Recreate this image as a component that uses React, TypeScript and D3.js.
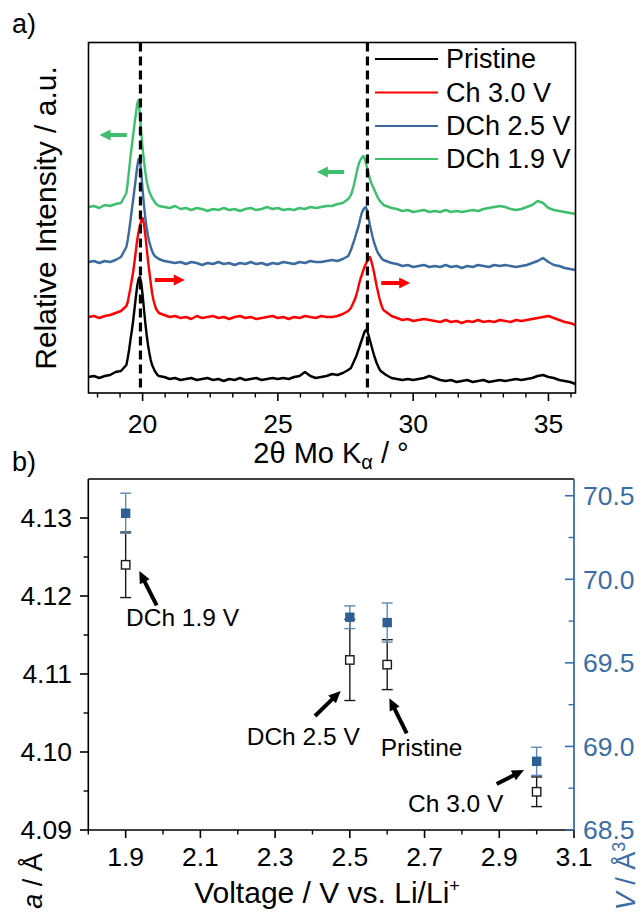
import React from 'react';
import * as d3 from 'd3';

// ---------- Panel a) XRD patterns ----------
const TWO_THETA = [
  18.0, 18.2, 18.4, 18.6, 18.8, 19.0, 19.2,
  19.4, 19.45, 19.5, 19.55, 19.6, 19.65, 19.7, 19.75, 19.8, 19.85, 19.9, 19.95, 20.0, 20.05, 20.1, 20.15, 20.2, 20.25, 20.3, 20.35, 20.4, 20.45, 20.5, 20.55, 20.6,
  20.8, 21.0, 21.2, 21.4, 21.6, 21.8, 22.0, 22.2, 22.4, 22.6, 22.8, 23.0, 23.2, 23.4, 23.6, 23.8, 24.0, 24.2, 24.4, 24.6, 24.8, 25.0, 25.2, 25.4, 25.6, 25.8, 26.0, 26.2, 26.4, 26.6, 26.8, 27.0, 27.2, 27.4, 27.6,
  27.7, 27.75, 27.8, 27.85, 27.9, 27.95, 28.0, 28.05, 28.1, 28.15, 28.2, 28.25, 28.3, 28.35, 28.4, 28.45, 28.5, 28.55, 28.6, 28.65, 28.7, 28.75, 28.8, 28.85, 28.9,
  29.0, 29.2, 29.4, 29.6, 29.8, 30.0, 30.2, 30.4, 30.6, 30.8, 31.0, 31.2, 31.4, 31.6, 31.8, 32.0, 32.2, 32.4, 32.6, 32.8, 33.0, 33.2, 33.4, 33.6, 33.8, 34.0, 34.2, 34.4, 34.6, 34.8, 35.0, 35.2, 35.4, 35.6, 35.8, 36.0,
];

const PRISTINE = [
  16, 17, 15, 17, 18, 21, 22,
  28, 35, 43, 53, 62, 72, 84, 96, 107, 114, 116, 110, 98, 84, 70, 58, 48, 40, 33, 28, 25, 22, 20, 18, 17,
  16, 14, 15, 13, 14, 15, 13, 14, 15, 13, 14, 12, 14, 13, 15, 13, 14, 15, 13, 14, 15, 14, 15, 14, 16, 17, 21, 17, 15, 16, 17, 19, 18, 20, 23,
  25, 28, 31, 34, 37, 41, 45, 49, 53, 57, 61, 63, 62, 58, 53, 48, 43, 38, 34, 30, 27, 24, 22, 21, 20,
  18, 15, 14, 13, 14, 13, 14, 15, 17, 15, 13, 12, 13, 11, 12, 13, 11, 12, 13, 11, 12, 13, 12, 13, 14, 13, 14, 15, 17, 18, 16, 15, 13, 12, 11, 9,
];

const CH_30V = [
  76, 77, 75, 77, 78, 80, 82,
  87, 91, 98, 105, 113, 121, 131, 142, 153, 161, 167, 172, 175, 169, 158, 145, 132, 121, 110, 100, 93, 88, 84, 82, 80,
  78, 76, 77, 75, 76, 74, 77, 75, 76, 77, 75, 76, 74, 76, 77, 75, 76, 74, 75, 76, 77, 75, 76, 74, 76, 75, 77, 76, 75, 77, 76, 76, 77, 79, 82,
  85, 88, 91, 94, 98, 103, 109, 114, 118, 122, 126, 129, 132, 135, 136, 132, 127, 121, 114, 107, 101, 95, 90, 86, 83,
  81, 77, 75, 73, 74, 72, 73, 74, 73, 72, 71, 73, 71, 72, 70, 72, 71, 73, 71, 72, 71, 73, 72, 71, 73, 72, 73, 74, 75, 76, 77, 75, 73, 71, 70, 68,
];

const DCH_25V = [
  131, 132, 130, 132, 131, 133, 136,
  146, 153, 162, 172, 183, 193, 204, 215, 226, 234, 232, 221, 203, 188, 175, 165, 157, 151, 146, 142, 139, 137, 136, 135, 134,
  132, 131, 130, 131, 129, 131, 130, 128, 130, 129, 131, 129, 130, 128, 130, 129, 131, 129, 130, 128, 130, 129, 131, 130, 129, 131, 130, 132, 131, 131, 132, 133, 132, 134, 137,
  143, 147, 151, 155, 160, 164, 169, 175, 180, 183, 185, 186, 182, 175, 168, 162, 156, 151, 147, 143, 140, 138, 136, 134, 133,
  132, 130, 129, 127, 128, 126, 127, 128, 126, 127, 126, 128, 126, 127, 125, 127, 126, 128, 127, 126, 128, 127, 128, 127, 126, 127, 128, 130, 132, 135, 131, 128, 127, 125, 124, 123,
];

const DCH_19V = [
  186, 187, 185, 188, 187, 189, 190,
  200, 210, 223, 236, 247, 258, 269, 279, 289, 293, 278, 260, 245, 232, 221, 212, 206, 201, 198, 195, 193, 191, 189, 188, 187,
  186, 185, 187, 184, 185, 183, 185, 184, 182, 184, 183, 185, 183, 184, 182, 184, 185, 183, 184, 186, 184, 185, 183, 184, 183, 185, 184, 186, 185, 186, 187, 187, 189, 190, 194,
  198, 202, 207, 213, 219, 225, 230, 233, 235, 237, 235, 230, 225, 220, 214, 210, 207, 204, 201, 198, 195, 193, 191, 190, 188,
  187, 185, 184, 182, 183, 181, 182, 183, 181, 182, 181, 183, 181, 182, 181, 182, 183, 182, 184, 185, 186, 187, 186, 184, 183, 184, 186, 188, 192, 190, 185, 183, 182, 181, 180, 179,
];

const SERIES_NAMES = ['Pristine', 'Ch 3.0 V', 'DCh 2.5 V', 'DCh 1.9 V'];
const SERIES_COLORS = ['#000000', '#ff0000', '#3a6a9e', '#3dbf6d'];
const REF_LINES = [19.92, 28.31];
const TOP_X_TICKS = [20, 25, 30, 35];
// shift arrows: [from 2θ, to 2θ, intensity, series index]
const SHIFT_ARROWS: [number, number, number, number][] = [
  [19.42, 18.41, 258, 3],
  [27.45, 26.44, 221, 3],
  [20.45, 21.56, 113, 1],
  [28.82, 29.89, 110, 1],
];

// ---------- Panel b) lattice parameters ----------
const VOLTAGE = [1.9, 2.5, 2.6, 3.0];
const LATTICE_A = [4.1240, 4.1118, 4.1112, 4.0949];
const LATTICE_A_ERR = [0.0042, 0.0052, 0.0032, 0.0019];
const VOLUME = [70.395, 69.773, 69.741, 68.911];
const VOLUME_ERR = [0.12, 0.068, 0.117, 0.084];
const POINT_LABELS = ['DCh 1.9 V', 'DCh 2.5 V', 'Pristine', 'Ch 3.0 V'];
// annotation: [text x (V), text baseline (a), arrow tail x, tail a, arrow tip x, tip a]
const LABEL_POS: [number, number, number, number, number, number][] = [
  [1.901, 4.1162, 1.983, 4.1188, 1.9365, 4.1232],
  [2.224, 4.1009, 2.4068, 4.10462, 2.4756, 4.10782],
  [2.5827, 4.09949, 2.6523, 4.1024, 2.6057, 4.10688],
  [2.6557, 4.0923, 2.8931, 4.0959, 2.9662, 4.0977],
];
const B_X_TICKS = [1.9, 2.1, 2.3, 2.5, 2.7, 2.9, 3.1];
const B_X_MINOR = [1.8, 2.0, 2.2, 2.4, 2.6, 2.8, 3.0];
const A_TICKS = [4.09, 4.10, 4.11, 4.12, 4.13];
const A_MINOR = [4.095, 4.105, 4.115, 4.125];
const V_TICKS = [68.5, 69.0, 69.5, 70.0, 70.5];
const V_MINOR = [68.75, 69.25, 69.75, 70.25];

const FONT = '"Liberation Sans", Arial, Helvetica, sans-serif';
const AXIS_BLUE = '#3b6ea5';
const SQUARE_BLUE = '#2d5f94';
const ERR_BLUE = '#5f88b8';

function Arrow({ x1, y1, x2, y2, color, width = 4, headLen = 11, headW = 11 }: any) {
  const dx = x2 - x1, dy = y2 - y1;
  const len = Math.sqrt(dx * dx + dy * dy);
  const ux = dx / len, uy = dy / len;
  const bx = x2 - ux * headLen, by = y2 - uy * headLen;
  const px = -uy * headW / 2, py = ux * headW / 2;
  return (
    <g>
      <line x1={x1} y1={y1} x2={bx + ux * 1} y2={by + uy * 1} stroke={color} strokeWidth={width} />
      <polygon points={`${x2},${y2} ${bx + px},${by + py} ${bx - px},${by - py}`} fill={color} />
    </g>
  );
}

export default function App() {
  // top panel scales
  const xT = d3.scaleLinear().domain([18, 36]).range([88.5, 575.5]);
  const yT = d3.scaleLinear().domain([0, 350.5]).range([393, 42.5]);
  const line = d3.line<number>().x((_, i) => xT(TWO_THETA[i])).y((d) => yT(d));
  const seriesData = [PRISTINE, CH_30V, DCH_25V, DCH_19V];
  const topMinor = d3.range(-2, 20).map((k) => 20 + (k * 5) / 6).filter((v) => v > 18 && v < 36);

  // bottom panel scales
  const xB = d3.scaleLinear().domain([1.8, 3.1]).range([88.3, 574]);
  const yA = d3.scaleLinear().domain([4.09, 4.135]).range([830, 479]);
  const yV = d3.scaleLinear().domain([68.5, 70.6]).range([830, 479]);

  const legendY = [59, 92.5, 126, 159];

  return (
    <svg width={643} height={913} style={{ position: 'absolute', left: 0, top: 0, background: '#fff' }} fontFamily={FONT}>
      <rect x={0} y={0} width={643} height={913} fill="#fff" />
      {/* ---------------- Panel a ---------------- */}
      <text x={12} y={33} fontSize={27}>a)</text>

      {seriesData.map((s, i) => (
        <path key={i} d={line(s) || ''} fill="none" stroke={SERIES_COLORS[i]} strokeWidth={2.4} strokeLinejoin="round" />
      ))}

      {REF_LINES.map((v, i) => (
        <line key={i} x1={xT(v)} x2={xT(v)} y1={yT(350.5)} y2={yT(0)} stroke="#000" strokeWidth={3.2} strokeDasharray="9,5" />
      ))}

      {SHIFT_ARROWS.map(([a, b, inten, si], i) => (
        <Arrow key={i} x1={xT(a)} y1={yT(inten)} x2={xT(b)} y2={yT(inten)} color={SERIES_COLORS[si]} width={4} headLen={11} headW={11} />
      ))}

      {/* legend */}
      {SERIES_NAMES.map((n, i) => (
        <g key={n}>
          <line x1={375} x2={438} y1={legendY[i]} y2={legendY[i]} stroke={SERIES_COLORS[i]} strokeWidth={2.2} />
          <text x={446} y={legendY[i]} dy="0.35em" fontSize={27}>{n}</text>
        </g>
      ))}

      {/* frame */}
      <rect x={88.5} y={42.5} width={487} height={350.5} fill="none" stroke="#000" strokeWidth={1.6} />
      {TOP_X_TICKS.map((t) => (
        <g key={t}>
          <line x1={xT(t)} x2={xT(t)} y1={393} y2={401} stroke="#000" strokeWidth={1.6} />
          <text x={xT(t)} y={433} fontSize={26.5} textAnchor="middle">{t}</text>
        </g>
      ))}
      {topMinor.filter((v) => !TOP_X_TICKS.some((t) => Math.abs(t - v) < 1e-6)).map((v, i) => (
        <line key={i} x1={xT(v)} x2={xT(v)} y1={393} y2={397.5} stroke="#000" strokeWidth={1.4} />
      ))}
      <text x={331} y={463} fontSize={29} textAnchor="middle">
        2θ Mo K<tspan fontSize={20} dy={6}>α</tspan><tspan dy={-6}> / °</tspan>
      </text>
      <text transform="translate(56,218) rotate(-90)" fontSize={30} textAnchor="middle">Relative Intensity / a.u.</text>

      {/* ---------------- Panel b ---------------- */}
      <text x={12} y={471} fontSize={27}>b)</text>

      {/* a error bars and open squares */}
      {VOLTAGE.map((v, i) => {
        const cx = xB(v);
        const top = yA(LATTICE_A[i] + LATTICE_A_ERR[i]);
        const bot = yA(LATTICE_A[i] - LATTICE_A_ERR[i]);
        return (
          <g key={'a' + i} stroke="#1a1a1a" strokeWidth={1.4}>
            <line x1={cx} x2={cx} y1={top} y2={bot} />
            <line x1={cx - 5.5} x2={cx + 5.5} y1={top} y2={top} />
            <line x1={cx - 5.5} x2={cx + 5.5} y1={bot} y2={bot} />
            <rect x={cx - 4.2} y={yA(LATTICE_A[i]) - 4.2} width={8.4} height={8.4} fill="#fff" strokeWidth={1.4} />
          </g>
        );
      })}
      {/* V error bars and filled squares */}
      {VOLTAGE.map((v, i) => {
        const cx = xB(v);
        const top = yV(VOLUME[i] + VOLUME_ERR[i]);
        const bot = yV(VOLUME[i] - VOLUME_ERR[i]);
        return (
          <g key={'v' + i}>
            <g stroke={ERR_BLUE} strokeWidth={1.4}>
              <line x1={cx} x2={cx} y1={top} y2={bot} />
              <line x1={cx - 5.5} x2={cx + 5.5} y1={top} y2={top} />
              <line x1={cx - 5.5} x2={cx + 5.5} y1={bot} y2={bot} />
            </g>
            <rect x={cx - 4.7} y={yV(VOLUME[i]) - 4.7} width={9.4} height={9.4} fill={SQUARE_BLUE} />
          </g>
        );
      })}

      {/* annotations */}
      {POINT_LABELS.map((lab, i) => {
        const [tx, ta, ax1, aa1, ax2, aa2] = LABEL_POS[i];
        return (
          <g key={lab}>
            <text x={xB(tx)} y={yA(ta)} fontSize={24.5}>{lab}</text>
            <Arrow x1={xB(ax1)} y1={yA(aa1)} x2={xB(ax2)} y2={yA(aa2)} color="#000" width={4} headLen={12} headW={11} />
          </g>
        );
      })}

      {/* axes frame */}
      <line x1={88.3} x2={574} y1={479} y2={479} stroke="#000" strokeWidth={1.6} />
      <line x1={88.3} x2={574} y1={830} y2={830} stroke="#000" strokeWidth={1.6} />
      <line x1={88.3} x2={88.3} y1={479} y2={830} stroke="#000" strokeWidth={1.6} />
      <line x1={574} x2={574} y1={479} y2={830} stroke={AXIS_BLUE} strokeWidth={1.8} />

      {B_X_TICKS.map((t) => (
        <g key={t}>
          <line x1={xB(t)} x2={xB(t)} y1={830} y2={838} stroke="#000" strokeWidth={1.6} />
          <text x={xB(t)} y={866} fontSize={26.5} textAnchor="middle">{t.toFixed(1)}</text>
        </g>
      ))}
      {B_X_MINOR.map((t) => (
        <line key={t} x1={xB(t)} x2={xB(t)} y1={830} y2={834.5} stroke="#000" strokeWidth={1.4} />
      ))}
      {A_TICKS.map((t) => (
        <g key={t}>
          <line x1={80} x2={88.3} y1={yA(t)} y2={yA(t)} stroke="#000" strokeWidth={1.6} />
          <text x={72} y={yA(t)} dy="0.35em" fontSize={26.5} textAnchor="end">{t.toFixed(2)}</text>
        </g>
      ))}
      {A_MINOR.map((t) => (
        <line key={t} x1={83.5} x2={88.3} y1={yA(t)} y2={yA(t)} stroke="#000" strokeWidth={1.4} />
      ))}
      {V_TICKS.map((t) => (
        <g key={t}>
          <line x1={565} x2={574} y1={yV(t)} y2={yV(t)} stroke={AXIS_BLUE} strokeWidth={1.6} />
          <text x={583} y={yV(t)} dy="0.35em" fontSize={26.5} fill={AXIS_BLUE}>{t.toFixed(1)}</text>
        </g>
      ))}
      {V_MINOR.map((t) => (
        <line key={t} x1={568.5} x2={574} y1={yV(t)} y2={yV(t)} stroke={AXIS_BLUE} strokeWidth={1.4} />
      ))}

      <text x={327} y={903} fontSize={30} textAnchor="middle">
        Voltage / V vs. Li/Li<tspan fontSize={18} dy={-11}>+</tspan>
      </text>
      <text transform="translate(42,881) rotate(-90)" fontSize={27} textAnchor="middle">
        <tspan fontStyle="italic">a</tspan> / Å
      </text>
      <text transform="translate(635,876) rotate(-90)" fontSize={27} textAnchor="middle" fill={AXIS_BLUE}>
        <tspan fontStyle="italic">V</tspan> / Å<tspan fontSize={18} dy={-10}>3</tspan>
      </text>
    </svg>
  );
}
